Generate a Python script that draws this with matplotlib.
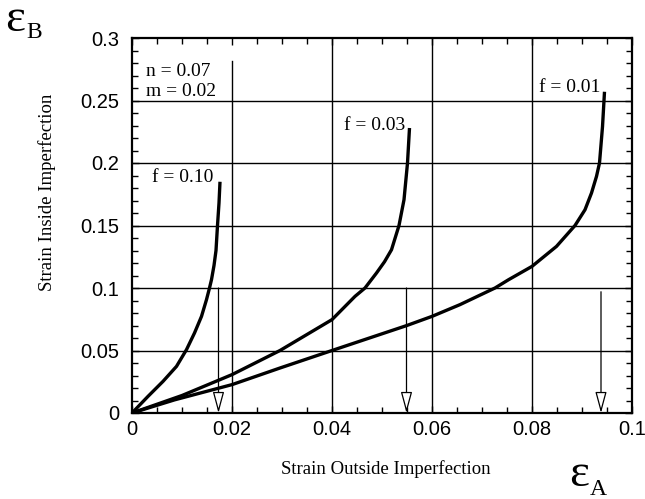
import matplotlib
matplotlib.use("Agg")
import matplotlib.pyplot as plt
from matplotlib.patches import FancyArrowPatch
from matplotlib.ticker import FixedLocator, MultipleLocator

# values
f10_x = [0, 0.0032, 0.0062, 0.0089, 0.0109, 0.0125, 0.0139, 0.0149, 0.0155, 0.0159, 0.0164, 0.0168, 0.0171, 0.0174, 0.0176]
f10_y = [0, 0.0133, 0.0253, 0.0373, 0.0507, 0.064, 0.0773, 0.0907, 0.1, 0.1067, 0.118, 0.130, 0.150, 0.168, 0.185]

f03_x = [0, 0.010, 0.020, 0.0296, 0.040, 0.0446, 0.0466, 0.0489, 0.0505, 0.0519, 0.0534, 0.0544, 0.0551, 0.0555]
f03_y = [0, 0.0140, 0.0307, 0.050, 0.0747, 0.0933, 0.100, 0.112, 0.121, 0.1306, 0.150, 0.1706, 0.200, 0.228]

f01_x = [0, 0.0085, 0.020, 0.0296, 0.040, 0.0549, 0.060, 0.0656, 0.0726, 0.0753, 0.080, 0.0849, 0.0886,
         0.0906, 0.0919, 0.0929, 0.0935, 0.0941, 0.0945]
f01_y = [0, 0.0105, 0.0227, 0.036, 0.050, 0.0699, 0.0773, 0.0867, 0.100, 0.1066, 0.1173, 0.1333, 0.150,
         0.1626, 0.176, 0.1893, 0.200, 0.229, 0.257]

curve_labels = ["f = 0.10", "f = 0.03", "f = 0.01"]
label_x = [0.0162, 0.0546, 0.0936]
label_y = [0.188, 0.2304, 0.2608]

# limit strains (arrow positions) and where the arrows start
arrow_x = [0.0173, 0.0549, 0.0938]
arrow_top = [0.100, 0.100, 0.097]

xticks = [0, 0.02, 0.04, 0.06, 0.08, 0.1]
xtick_labels = ["0", "0.02", "0.04", "0.06", "0.08", "0.1"]
yticks = [0, 0.05, 0.1, 0.15, 0.2, 0.25, 0.3]
ytick_labels = ["0", "0.05", "0.1", "0.15", "0.2", "0.25", "0.3"]

W, H = 645, 499
fig = plt.figure(figsize=(W / 100, H / 100), dpi=100)
ax = fig.add_axes([132 / W, 1 - 413 / H, 500 / W, 375 / H])
ax.set_xlim(0, 0.1)
ax.set_ylim(0, 0.3)

# grid lines (the one at 0.02 stops short of the top)
for xv in xticks[1:-1]:
    top = 0.282 if xv == 0.02 else 0.3
    ax.plot([xv, xv], [0, top], color="black", lw=1.0, zorder=1)
for yv in yticks[1:-1]:
    ax.axhline(yv, color="black", lw=1.0, zorder=1)

for xs, ys in [(f10_x, f10_y), (f03_x, f03_y), (f01_x, f01_y)]:
    ax.plot(xs, ys, color="black", lw=2.4, solid_capstyle="butt", solid_joinstyle="round", zorder=3)

serif = "Liberation Serif"
for txt, tx, ty in zip(curve_labels, label_x, label_y):
    ax.text(tx, ty, txt, ha="right", va="center", family=serif, fontsize=14)
ax.text(0.0028, 0.2728, "n = 0.07", ha="left", va="center", family=serif, fontsize=14)
ax.text(0.0028, 0.2576, "m = 0.02", ha="left", va="center", family=serif, fontsize=14)

for xa, ya in zip(arrow_x, arrow_top):
    arr = FancyArrowPatch((xa, ya), (xa, 0), arrowstyle="-|>,head_length=1.3,head_width=0.35",
                          mutation_scale=10, fc="white", ec="black", lw=0.9,
                          shrinkA=0, shrinkB=0, zorder=4)
    ax.add_patch(arr)

ax.xaxis.set_major_locator(FixedLocator(xticks))
ax.yaxis.set_major_locator(FixedLocator(yticks))
ax.set_xticklabels(xtick_labels, family="Liberation Sans", fontsize=14.5)
ax.set_yticklabels(ytick_labels, family="Liberation Sans", fontsize=14.5)
ax.xaxis.set_minor_locator(MultipleLocator(0.005))
ax.yaxis.set_minor_locator(MultipleLocator(0.01))
ax.tick_params(which="both", direction="in", top=True, right=True, width=1.0)
ax.tick_params(which="major", length=5)
ax.tick_params(which="minor", length=4)
ax.tick_params(axis="x", which="major", pad=5)
ax.tick_params(axis="y", which="major", pad=9)
for sp in ax.spines.values():
    sp.set_linewidth(1.6)

fig.text(386 / W, 1 - 469 / H, "Strain Outside Imperfection", ha="center", va="center",
         family=serif, fontsize=13.5)
fig.text(47 / W, 1 - 192 / H, "Strain Inside Imperfection", ha="center", va="center",
         rotation=90, family=serif, fontsize=13.5)

# epsilon axis symbols
fig.text(5 / W, 1 - 31 / H, "\u03b5", ha="left", va="baseline", family=serif, fontsize=34)
fig.text(26 / W, 1 - 38 / H, "B", ha="left", va="baseline", family=serif, fontsize=17)
fig.text(569 / W, 1 - 486 / H, "\u03b5", ha="left", va="baseline", family=serif, fontsize=34)
fig.text(590 / W, 1 - 495 / H, "A", ha="left", va="baseline", family=serif, fontsize=17)

fig.savefig("out.png", dpi=100)
